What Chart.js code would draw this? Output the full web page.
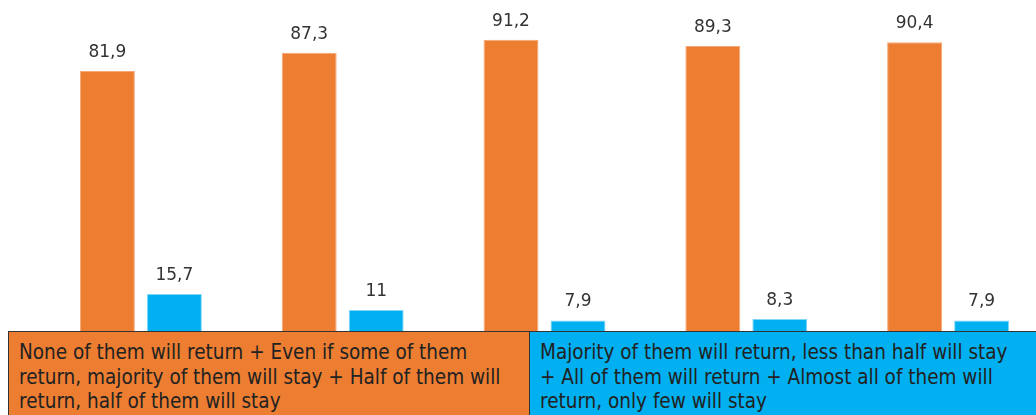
<!DOCTYPE html>
<html>
<head>
<meta charset="utf-8">
<script src="https://cdn.jsdelivr.net/npm/chart.js@4"></script>
<style>
    html, body { margin: 0; padding: 0; background: #fff; overflow: hidden; }
    #wrap { position: relative; width: 1036px; height: 415px; overflow: hidden; }
    #wrap canvas { position: absolute; left: 0; top: 0; }
    .box {
        position: absolute; top: 331px; height: 100px; box-sizing: border-box;
        border: 1px solid #333; padding: 8px 0 0 10px;
        font-family: "DejaVu Sans Condensed", "DejaVu Sans", sans-serif;
        font-size: 20.5px; line-height: 24.5px; color: #222; white-space: nowrap;
    }
    #boxA { left: 8px; width: 522px; background: #ED7D31; }
    #boxB { left: 529px; width: 520px; background: #00B0F0; }
</style>
</head>
<body>
<div id="wrap">
    <canvas id="bars" width="1050" height="415"></canvas>
    <div class="box" id="boxA">None of them will return + Even if some of them<br>return, majority of them will stay + Half of them will<br>return, half of them will stay</div>
    <div class="box" id="boxB">Majority of them will return, less than half will stay<br>+ All of them will return + Almost all of them will<br>return, only few will stay</div>
</div>
<script>
const groups = ['1', '2', '3', '4', '5'];
const willLeave = [81.9, 87.3, 91.2, 89.3, 90.4];
const willReturn = [15.7, 11, 7.9, 8.3, 7.9];

// value labels above each bar, comma as decimal sign
const barLabels = {
    id: 'barLabels',
    afterDatasetsDraw(chart) {
        const ctx = chart.ctx;
        ctx.save();
        ctx.font = '17px "DejaVu Sans", sans-serif';
        ctx.fillStyle = '#333';
        ctx.textAlign = 'center';
        ctx.textBaseline = 'alphabetic';
        chart.data.datasets.forEach(function (ds, i) {
            chart.getDatasetMeta(i).data.forEach(function (bar, j) {
                let txt = String(ds.data[j]).replace('.', ',');
                ctx.fillText(txt, bar.x, bar.y - 14);
            });
        });
        ctx.restore();
    }
};

new Chart(document.getElementById('bars'), {
    type: 'bar',
    data: {
        labels: groups,
        datasets: [{
            data: willLeave,
            backgroundColor: '#ED7D31',
            borderColor: '#F4A877',
            borderWidth: { top: 1, left: 1, right: 1, bottom: 0 }
        }, {
            data: willReturn,
            backgroundColor: '#00B0F0',
            borderColor: '#7FD6F7',
            borderWidth: { top: 1, left: 1, right: 1, bottom: 0 }
        }]
    },
    options: {
        responsive: false,
        animation: false,
        categoryPercentage: 0.664,
        barPercentage: 0.82,
        layout: { padding: { left: 40, right: 1, top: 10, bottom: 68 } },
        plugins: { legend: { display: false }, tooltip: { enabled: false } },
        scales: {
            x: { display: false },
            y: { display: false, min: 0, max: 100 }
        }
    },
    plugins: [barLabels]
});
</script>
</body>
</html>
